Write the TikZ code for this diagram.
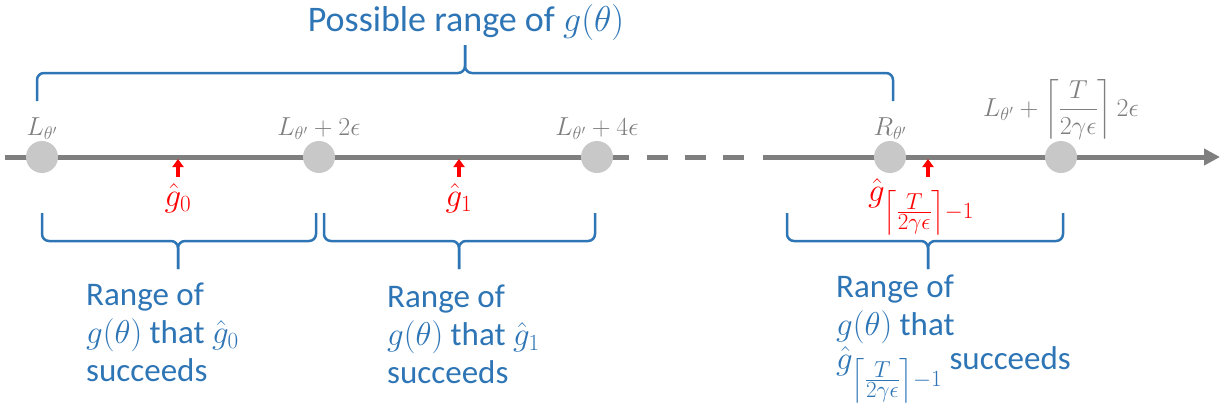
\documentclass[tikz,border=0pt]{standalone}
\usepackage{fix-cm}
\usepackage{amsmath}
\usepackage{fontspec}
\setmainfont{Carlito}
\usetikzlibrary{arrows.meta,positioning,calc}
\definecolor{braceblue}{HTML}{2E75B6}
\definecolor{axisgray}{HTML}{7F7F7F}
\definecolor{dotgray}{HTML}{C8C8C8}

\tikzset{
rangebrace/.style={braceblue,line width=2.5pt,rounded corners=7pt},
pics/rangebr/.style n args={3}{code={
\draw[rangebrace] (#1,0) -- (#1,28) -- (#3,28) -- (#3,56);
\draw[rangebrace] (#2,0) -- (#2,28) -- (#3,28) -- (#3,56);
}}
}

\begin{document}
\begin{tikzpicture}[
x=1pt,y=-1pt,
dot/.style={circle,fill=dotgray,minimum size=32pt,inner sep=0pt},
valuelabel/.style={text=axisgray,inner sep=1pt,font=\fontsize{26}{30}\selectfont},
estarrow/.style={red,line width=4pt,-{Triangle[length=8pt,width=11pt]}},
estlabel/.style={text=red,inner sep=1pt,font=\fontsize{33}{36}\selectfont},
rangetext/.style={text=braceblue,align=left,inner sep=0pt,anchor=north west,
font=\fontsize{33}{38}\selectfont},
axis/.style={axisgray,line width=5pt}
]
\useasboundingbox (0,0) rectangle (1222,410);

% number line
\coordinate (start) at (5,157);
\coordinate (dashL) at (647,157);
\coordinate (dashR) at (745,157);
\coordinate (solidL) at (629,157);
\coordinate (solidR) at (763,157);
\coordinate (tip) at (1220,157);
\draw[axis] (start) -- (solidL);
\draw[axis,dash pattern=on 21pt off 17pt] (dashL) -- (dashR);
\draw[axis,-{Triangle[length=16pt,width=16pt]}] (solidR) -- (tip);

\node[dot] (c0) at (42,157) {};
\node[dot] (c1) at (319,157) {};
\node[dot] (c2) at (597,157) {};
\node[dot] (c3) at (890,157) {};
\node[dot] (c4) at (1061,157) {};

\node[valuelabel,above=0pt of c0] (lab0) {$L_{\theta'}$};
\node[valuelabel,above=0pt of c1] (lab1) {$L_{\theta'}+2\epsilon$};
\node[valuelabel,above=0pt of c2] (lab2) {$L_{\theta'}+4\epsilon$};
\node[valuelabel,above=0pt of c3] (lab3) {$R_{\theta'}$};
\node[valuelabel,above=0pt of c4] (lab4)
{$L_{\theta'}+\left\lceil\dfrac{T}{2\gamma\epsilon}\right\rceil 2\epsilon$};

% estimates
\node[estlabel] (g0) at (178,198) {$\hat{g}_0$};
\node[estlabel] (g1) at (459,198) {$\hat{g}_1$};
\node[estlabel] (glast) at (921,207)
{$\hat{g}_{\left\lceil\frac{\scriptstyle T}{\scriptstyle 2\gamma\epsilon}\right\rceil-1}$};
\coordinate (a0) at (178,177);
\coordinate (a1) at (459,177);
\coordinate (alast) at (928,177);
\draw[estarrow] (a0) -- ++(0,-18);
\draw[estarrow] (a1) -- ++(0,-18);
\draw[estarrow] (alast) -- ++(0,-18);

% braces
\pic[yscale=-1] at (0,101) {rangebr={37}{893}{465}};
\pic at (0,213) {rangebr={42}{316}{178}};
\pic at (0,213) {rangebr={324}{595}{459}};
\pic at (0,213) {rangebr={787}{1063}{928}};

\node[text=braceblue,font=\fontsize{36}{40}\selectfont] (title) at (466,22)
{Possible range of $g(\theta)$};
\node[rangetext] (range0) at (86,283)
{Range of\\$g(\theta)$ that $\hat{g}_0$\\succeeds};
\node[rangetext] (range1) at (387,285)
{Range of\\$g(\theta)$ that $\hat{g}_1$\\succeeds};
\node[rangetext] (rangelast) at (836,275)
{Range of\\$g(\theta)$ that\\[-4pt]$\hat{g}_{\left\lceil\frac{\scriptstyle T}{\scriptstyle 2\gamma\epsilon}\right\rceil-1}$ succeeds};

\end{tikzpicture}
\end{document}
